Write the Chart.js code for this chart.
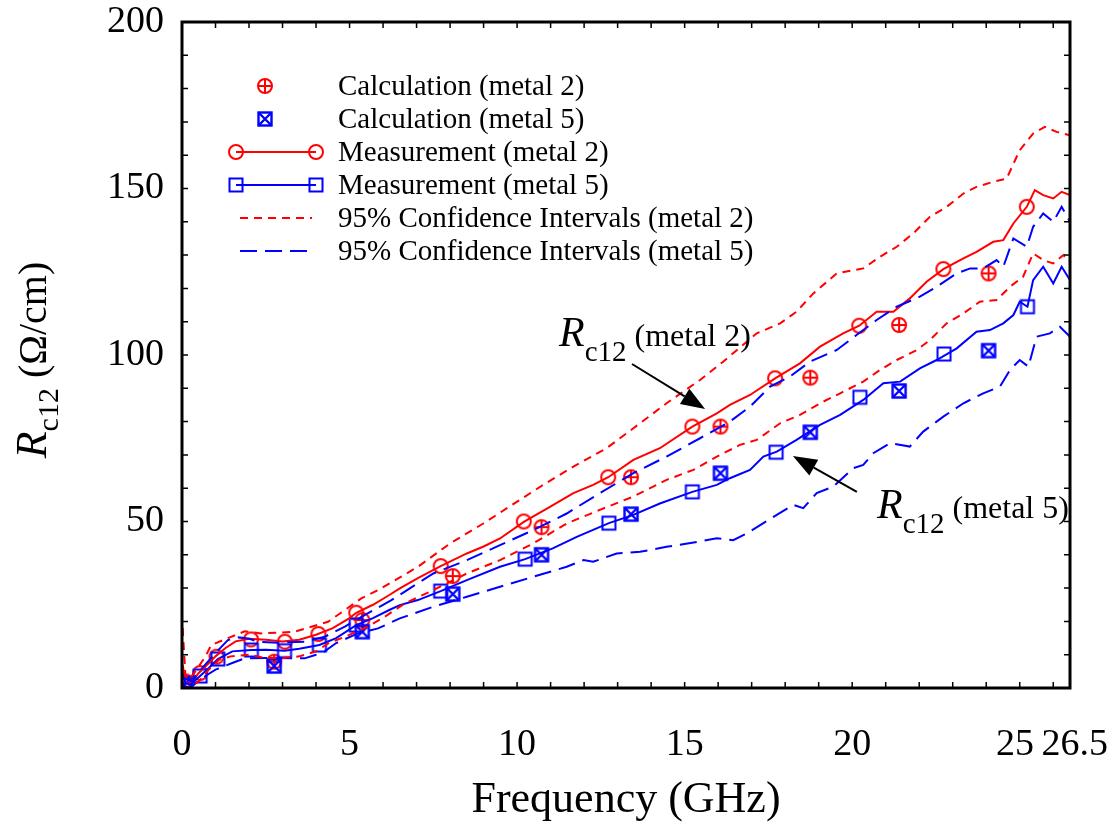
<!DOCTYPE html>
<html>
<head>
<meta charset="utf-8">
<script src="https://cdn.jsdelivr.net/npm/chart.js@4.4.1/dist/chart.umd.min.js"></script>
<style>
  html, body { margin: 0; padding: 0; background: #fff; }
  #wrap { width: 1120px; height: 829px; }
</style>
</head>
<body>
<div id="wrap"><canvas id="chart" width="1120" height="829"></canvas></div>
<script>
// ---- data (frequency in GHz, Rc12 in ohm/cm) ----
const measM2X = [0.02, 0.1, 0.2, 0.35, 0.5, 0.75, 1.0, 1.3, 1.6, 2.0, 2.5, 3.0, 3.5, 4.0, 4.5, 5.0, 5.2, 5.7, 6.2, 6.5, 7.04, 7.72, 8.5, 9.0, 9.49, 10.2, 10.98, 11.68, 12.27, 12.72, 13.47, 14.26, 15.23, 15.96, 16.35, 16.95, 17.7, 18.44, 19.04, 19.73, 20.21, 20.73, 21.23, 21.72, 22.22, 22.72, 23.32, 23.71, 24.21, 24.51, 24.81, 25.21, 25.45, 25.7, 26.0, 26.25, 26.5]
const measM2Y = [7, 2, 1, 2.5, 4.5, 7, 9.5, 12, 14, 14.8, 14.5, 14, 14.5, 16, 18, 21, 22.6, 25, 28, 29.9, 33, 36.6, 40.4, 42.5, 44.9, 49.9, 54.4, 58.5, 61, 63.3, 68.5, 72, 78.5, 82.5, 85, 88, 93, 97.5, 102.5, 106.5, 108.8, 113, 113, 117, 122, 125.8, 129, 131, 134, 134.5, 139.5, 144.5, 149.5, 148, 147, 149, 148]

const measM5X = [0.02, 0.1, 0.25, 0.54, 0.8, 1.07, 1.5, 2.07, 2.5, 3.06, 3.5, 4.1, 4.6, 5.2, 5.7, 6.2, 6.5, 7.04, 7.72, 8.5, 9.49, 10.24, 11.08, 11.78, 12.74, 13.47, 14.26, 15.23, 15.96, 16.35, 16.95, 17.35, 17.75, 18.34, 19.04, 19.64, 20.33, 20.93, 21.43, 22.02, 22.52, 23.12, 23.71, 24.11, 24.51, 24.81, 25.0, 25.23, 25.4, 25.7, 26.0, 26.25, 26.5]
const measM5Y = [4, 1.5, 1, 3.6, 6, 8.7, 11, 11.4, 11.5, 11.2, 11.8, 12.9, 15, 18.9, 21, 23.5, 24.9, 26.4, 29.1, 32.4, 36.4, 38.7, 42, 45.4, 49.5, 52, 55.4, 58.9, 61, 63, 65.5, 69.5, 71, 74.5, 79, 82, 86.5, 91.5, 92, 96, 98.5, 102, 107, 107.5, 109.5, 112, 116, 114.5, 122.5, 126.5, 121.5, 126.5, 122.5]

const ciM2HiX = [0.02, 0.1, 0.2, 0.4, 0.7, 0.87, 1.37, 1.87, 2.37, 2.86, 3.36, 3.86, 4.36, 4.86, 5.35, 5.85, 6.45, 7.04, 8.0, 8.99, 9.99, 10.78, 11.68, 12.67, 13.47, 14.46, 15.46, 16.15, 17.15, 17.85, 18.34, 18.84, 19.54, 20.33, 20.83, 21.33, 21.82, 22.32, 22.82, 23.32, 23.71, 24.21, 24.61, 25.0, 25.4, 25.75, 26.1, 26.5]
const ciM2HiY = [18, 4, 2.5, 5, 9.5, 12.9, 15, 17, 16.4, 16.6, 16.9, 18.4, 19.9, 23.4, 26.9, 29.4, 32.9, 36.4, 43.4, 49.4, 55.9, 61, 66.5, 72, 78, 85.5, 92.5, 98, 106.5, 109.5, 113, 118.5, 124.5, 126, 129.5, 132.5, 136.5, 141.5, 144.5, 148.5, 150.5, 152, 153, 161.5, 166.5, 168.5, 167, 166]

const ciM2LoX = [0.02, 0.2, 0.5, 0.8, 1.1, 1.45, 2.0, 2.5, 3.0, 3.5, 4.0, 4.36, 4.86, 5.45, 6.05, 6.65, 7.5, 8.5, 9.49, 10.48, 11.48, 12.47, 13.47, 14.46, 15.26, 15.96, 16.65, 17.15, 17.85, 18.44, 19.14, 19.64, 20.33, 20.83, 21.33, 21.93, 22.32, 22.82, 23.32, 23.81, 24.31, 24.71, 25.1, 25.4, 25.7, 26.0, 26.3, 26.5]
const ciM2LoY = [0, 0, 2, 5.5, 8.5, 9.5, 10, 9, 9, 9.5, 11, 13.4, 15.4, 17.9, 21.4, 25.4, 29.4, 34.4, 38.4, 43.4, 49.4, 53.5, 57.5, 62.5, 65.5, 69.5, 73, 74.5, 79.5, 82, 86, 88.5, 92, 95.5, 98.5, 101.5, 104.5, 109.5, 112.5, 116, 116.5, 120.5, 123.5, 130.5, 128.5, 127.5, 130, 128]

const ciM5HiX = [0.02, 0.3, 0.6, 1.0, 1.37, 1.67, 1.97, 2.27, 2.86, 3.66, 4.26, 4.86, 5.45, 6.25, 7.5, 8.5, 9.49, 10.48, 11.48, 12.47, 13.47, 14.46, 15.46, 16.35, 16.95, 17.55, 18.14, 18.74, 19.54, 20.13, 20.73, 21.33, 22.02, 22.52, 23.12, 23.52, 23.91, 24.31, 24.51, 24.81, 25.21, 25.4, 25.7, 26.0, 26.25, 26.5]
const ciM5HiY = [3, 2, 6, 10.5, 14.4, 15.2, 14.9, 13.9, 13.6, 13.9, 15.4, 18.4, 21.9, 26.4, 34.4, 38.4, 42.9, 47.4, 52.4, 58.5, 64.5, 69.5, 75, 80, 84.5, 90.5, 93.5, 98, 101.5, 106, 110.5, 114.5, 117.5, 120.5, 124.5, 126, 126, 128.5, 126.5, 135, 132.5, 138.5, 142.5, 140, 144.5, 140]

const ciM5LoX = [0.02, 0.3, 0.6, 1.0, 1.5, 1.87, 2.5, 3.66, 4.0, 4.26, 4.6, 5.25, 5.85, 6.5, 7.5, 8.5, 9.49, 10.48, 11.48, 11.98, 12.27, 12.97, 13.67, 14.46, 15.46, 15.96, 16.45, 16.85, 17.65, 18.24, 18.54, 18.94, 19.44, 20.03, 20.33, 20.63, 21.13, 21.72, 22.12, 22.72, 23.32, 23.91, 24.41, 24.71, 25.0, 25.26, 25.5, 25.9, 26.2, 26.5]
const ciM5LoY = [0, 0.5, 3, 5.5, 7.5, 8.9, 9, 8.9, 10, 11, 13.5, 16.4, 17.9, 20.9, 24.4, 27.4, 30.4, 33.4, 36.4, 38.4, 37.9, 40.4, 40.9, 42.4, 44, 45, 44.4, 46.4, 51.4, 55, 54, 58.5, 60.5, 66, 67, 70.5, 73.5, 72.5, 77, 81.5, 85.5, 88.5, 90.5, 95.5, 98.5, 96.5, 105.5, 106.5, 108.5, 105.5]

// marker positions on the measured curves
const markM2X = [0.1, 0.54, 1.03, 2.06, 3.07, 4.07, 5.2, 7.72, 10.2, 12.72, 15.23, 17.7, 20.21, 22.72, 25.21]
const markM2Y = [2, 4.5, 9.4, 14.6, 13.9, 16.2, 22.6, 36.6, 50, 63.3, 78.5, 93, 108.8, 125.8, 144.5]
const markM5X = [0.1, 0.54, 1.07, 2.07, 3.06, 4.1, 5.2, 7.72, 10.24, 12.74, 15.23, 17.73, 20.23, 22.74, 25.23]
const markM5Y = [1.5, 3.6, 8.7, 11.4, 11.2, 12.9, 18.9, 29.1, 38.7, 49.5, 58.9, 70.8, 87.3, 100.3, 114.5]

// calculated values
const calcX = [0.07, 2.75, 5.38, 8.08, 10.73, 13.4, 16.07, 18.75, 21.4, 24.07]
const calcM2Y = [1.5, 7.9, 20.4, 33.6, 48.3, 63.3, 78.5, 93.2, 109, 124.5]
const calcM5Y = [1, 6.6, 16.9, 28.2, 40, 52.2, 64.5, 76.8, 89.2, 101.3]

const xTickValues = [0, 5, 10, 15, 20, 25, 26.5]
const legendLabels = [
  'Calculation (metal 2)',
  'Calculation (metal 5)',
  'Measurement (metal 2)',
  'Measurement (metal 5)',
  '95% Confidence Intervals (metal 2)',
  '95% Confidence Intervals (metal 5)'
]

const RED = '#ff0000'
const BLUE = '#0000ff'
const SERIF = '"Liberation Serif", "Times New Roman", serif'

const pairs = (xs, ys) => xs.map((x, i) => ({x: x, y: ys[i]}))

// small canvases used as point styles
function marker(kind, color) {
  const s = 22, m = s / 2
  const c = document.createElement('canvas')
  c.width = s
  c.height = s
  const g = c.getContext('2d')
  g.strokeStyle = color
  g.lineWidth = 2
  if (kind === 'circle' || kind === 'circlePlus') {
    g.beginPath()
    g.arc(m, m, 7, 0, Math.PI * 2)
    g.stroke()
    if (kind === 'circlePlus') {
      g.beginPath()
      g.moveTo(m - 7, m); g.lineTo(m + 7, m)
      g.moveTo(m, m - 7); g.lineTo(m, m + 7)
      g.stroke()
    }
  } else {
    if (kind === 'squareX') g.lineWidth = 2.4
    g.strokeRect(m - 6.5, m - 6.5, 13, 13)
    if (kind === 'squareX') {
      g.beginPath()
      g.moveTo(m - 6.5, m - 6.5); g.lineTo(m + 6.5, m + 6.5)
      g.moveTo(m + 6.5, m - 6.5); g.lineTo(m - 6.5, m + 6.5)
      g.stroke()
    }
  }
  return c
}

const mkCircle = marker('circle', RED)
const mkCirclePlus = marker('circlePlus', RED)
const mkSquare = marker('square', BLUE)
const mkSquareX = marker('squareX', BLUE)

const lineDs = (label, xs, ys, color, dash) => ({
  label: label,
  data: pairs(xs, ys),
  showLine: true,
  borderColor: color,
  borderWidth: 2,
  borderDash: dash,
  pointRadius: 0,
  tension: 0,
  fill: false
})
const markDs = (label, xs, ys, style) => ({
  label: label,
  data: pairs(xs, ys),
  showLine: false,
  pointStyle: style,
  pointRadius: 7,
  pointHoverRadius: 7
})

const datasets = [
  lineDs('ciM2Hi', ciM2HiX, ciM2HiY, RED, [8, 6]),
  lineDs('ciM2Lo', ciM2LoX, ciM2LoY, RED, [8, 6]),
  lineDs('ciM5Hi', ciM5HiX, ciM5HiY, BLUE, [17, 8]),
  lineDs('ciM5Lo', ciM5LoX, ciM5LoY, BLUE, [17, 8]),
  lineDs('measM5', measM5X, measM5Y, BLUE, []),
  lineDs('measM2', measM2X, measM2Y, RED, []),
  markDs('markM5', markM5X, markM5Y, mkSquare),
  markDs('markM2', markM2X, markM2Y, mkCircle),
  markDs('calcM5', calcX, calcM5Y, mkSquareX),
  markDs('calcM2', calcX, calcM2Y, mkCirclePlus)
]

// frame with inward ticks on all four sides
const framePlugin = {
  id: 'frame',
  afterDatasetsDraw(chart) {
    const {ctx, chartArea: a, scales: {x, y}} = chart
    ctx.save()
    ctx.strokeStyle = '#000'
    ctx.lineWidth = 1.5
    ctx.beginPath()
    for (let v = 1; v < 26.5; v++) {
      const px = x.getPixelForValue(v)
      ctx.moveTo(px, a.bottom); ctx.lineTo(px, a.bottom - 6)
      ctx.moveTo(px, a.top); ctx.lineTo(px, a.top + 6)
    }
    for (let v = 10; v < 200; v += 10) {
      const py = y.getPixelForValue(v)
      ctx.moveTo(a.left, py); ctx.lineTo(a.left + 6, py)
      ctx.moveTo(a.right, py); ctx.lineTo(a.right - 6, py)
    }
    ctx.stroke()
    ctx.lineWidth = 3
    ctx.strokeRect(a.left, a.top, a.right - a.left, a.bottom - a.top)
    ctx.restore()
  }
}

// legend drawn with the datasets' own styles
const legendPlugin = {
  id: 'paperLegend',
  afterDraw(chart) {
    const {ctx, chartArea: a} = chart
    const ds = chart.data.datasets
    const find = l => ds.find(d => d.label === l)
    const x0 = a.left + 54, x1 = a.left + 134, xm = a.left + 83, tx = a.left + 156
    const rows = [
      {mark: find('calcM2')},
      {mark: find('calcM5')},
      {line: find('measM2'), ends: find('markM2')},
      {line: find('measM5'), ends: find('markM5')},
      {line: find('ciM2Hi')},
      {line: find('ciM5Hi')}
    ]
    const pt = style => ({pointStyle: style, radius: 7, rotation: 0, borderWidth: 0})
    ctx.save()
    rows.forEach((r, i) => {
      const yy = a.top + 64 + i * 33
      if (r.line) {
        ctx.strokeStyle = r.line.borderColor
        ctx.lineWidth = 2
        ctx.setLineDash(r.line.borderDash)
        ctx.beginPath()
        ctx.moveTo(r.ends ? x0 : x0 + 4, yy)
        ctx.lineTo(r.ends ? x1 : x1 - 4, yy)
        ctx.stroke()
        ctx.setLineDash([])
      }
      if (r.ends) {
        Chart.helpers.drawPoint(ctx, pt(r.ends.pointStyle), x0, yy)
        Chart.helpers.drawPoint(ctx, pt(r.ends.pointStyle), x1, yy)
      }
      if (r.mark) {
        Chart.helpers.drawPoint(ctx, pt(r.mark.pointStyle), xm, yy)
      }
      ctx.fillStyle = '#000'
      ctx.font = '29px ' + SERIF
      ctx.textBaseline = 'middle'
      ctx.fillText(legendLabels[i], tx, yy + 1)
    })
    ctx.restore()
  }
}

function drawRc12(ctx, x, y, rSize, subSize, restSize, subDrop, rest) {
  ctx.font = 'italic ' + rSize + 'px ' + SERIF
  ctx.fillText('R', x, y)
  x += ctx.measureText('R').width
  ctx.font = subSize + 'px ' + SERIF
  ctx.fillText('c12', x, y + subDrop)
  x += ctx.measureText('c12').width
  ctx.font = restSize + 'px ' + SERIF
  ctx.fillText(rest, x, y)
}
function widthRc12(ctx, rSize, subSize, restSize, rest) {
  let w = 0
  ctx.font = 'italic ' + rSize + 'px ' + SERIF; w += ctx.measureText('R').width
  ctx.font = subSize + 'px ' + SERIF; w += ctx.measureText('c12').width
  ctx.font = restSize + 'px ' + SERIF; w += ctx.measureText(rest).width
  return w
}

function arrow(ctx, x1, y1, x2, y2) {
  const ang = Math.atan2(y2 - y1, x2 - x1)
  const hl = 24, hw = 9
  const bx = x2 - hl * Math.cos(ang), by = y2 - hl * Math.sin(ang)
  ctx.beginPath()
  ctx.moveTo(x1, y1); ctx.lineTo(bx, by)
  ctx.stroke()
  ctx.beginPath()
  ctx.moveTo(x2, y2)
  ctx.lineTo(bx + hw * Math.sin(ang), by - hw * Math.cos(ang))
  ctx.lineTo(bx - hw * Math.sin(ang), by + hw * Math.cos(ang))
  ctx.closePath()
  ctx.fill()
}

// annotation anchors in data units
const notes = [
  {text: [11.25, 102.7], from: [13.43, 97.3], to: [15.61, 83.8], rest: ' (metal 2)'},
  {text: [20.74, 51.05], from: [20.14, 58.9], to: [18.23, 69.7], rest: ' (metal 5)'}
]

const notePlugin = {
  id: 'notes',
  afterDraw(chart) {
    const {ctx, scales: {x, y}} = chart
    ctx.save()
    ctx.fillStyle = '#000'
    ctx.strokeStyle = '#000'
    ctx.lineWidth = 2
    ctx.textBaseline = 'alphabetic'
    notes.forEach(n => {
      drawRc12(ctx, x.getPixelForValue(n.text[0]), y.getPixelForValue(n.text[1]), 42, 29, 32, 15, n.rest)
      arrow(ctx, x.getPixelForValue(n.from[0]), y.getPixelForValue(n.from[1]),
        x.getPixelForValue(n.to[0]), y.getPixelForValue(n.to[1]))
    })
    // y axis title, rotated
    const w = widthRc12(ctx, 44, 30, 40, ' (\u03A9/cm)')
    ctx.translate(46, 360)
    ctx.rotate(-Math.PI / 2)
    drawRc12(ctx, -w / 2, 0, 44, 30, 40, 12, ' (\u03A9/cm)')
    ctx.restore()
  }
}

new Chart(document.getElementById('chart'), {
  type: 'scatter',
  data: {datasets: datasets},
  options: {
    responsive: false,
    devicePixelRatio: 1,
    animation: false,
    layout: {padding: {top: 22, right: 50, left: 0, bottom: 0}},
    plugins: {legend: {display: false}, tooltip: {enabled: false}},
    scales: {
      x: {
        type: 'linear',
        min: 0,
        max: 26.5,
        afterBuildTicks: s => { s.ticks = xTickValues.map(v => ({value: v})) },
        afterFit: s => {
          s.height = 141
          s.paddingLeft = 0
          s.paddingRight = 0
        },
        grid: {display: false, drawTicks: false},
        border: {display: false},
        ticks: {
          autoSkip: false,
          maxRotation: 0,
          padding: 34,
          color: '#000',
          font: {family: SERIF, size: 38},
          // nudge the two crowded end labels apart a little
          callback: v => v === 25 ? '25 ' : v === 26.5 ? ' 26.5' : String(v)
        },
        title: {
          display: true,
          text: 'Frequency (GHz)',
          color: '#000',
          font: {family: SERIF, size: 44},
          padding: {top: 0, bottom: 2}
        }
      },
      y: {
        min: 0,
        max: 200,
        afterFit: s => {
          s.width = 182
          s.paddingTop = 0
          s.paddingBottom = 0
        },
        grid: {display: false, drawTicks: false},
        border: {display: false},
        ticks: {
          stepSize: 50,
          padding: 18,
          color: '#000',
          font: {family: SERIF, size: 38}
        }
      }
    }
  },
  plugins: [framePlugin, legendPlugin, notePlugin]
})
</script>
</body>
</html>
